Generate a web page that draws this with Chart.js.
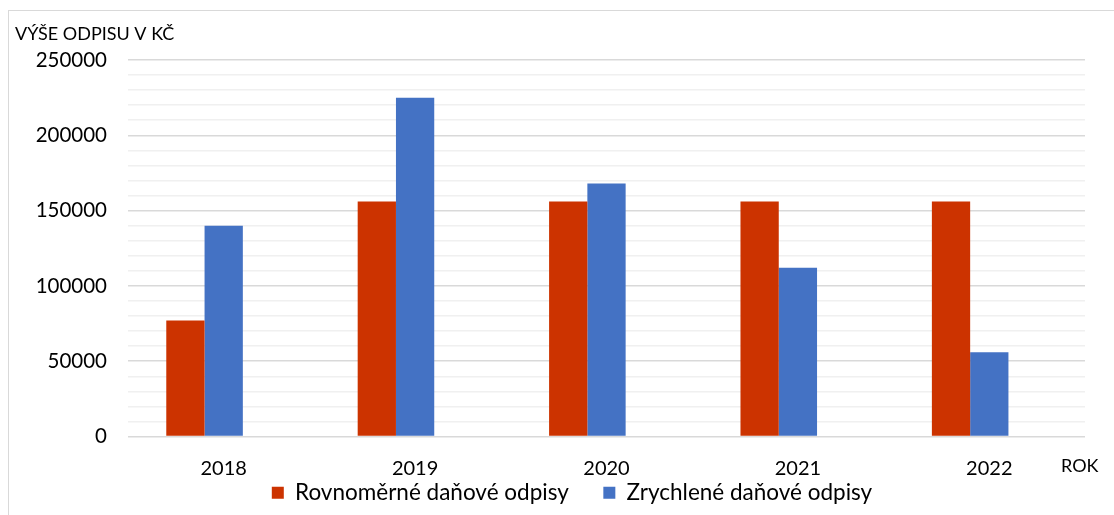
<!DOCTYPE html>
<html>
<head>
<meta charset="utf-8">
<script src="https://cdn.jsdelivr.net/npm/chart.js@4/dist/chart.umd.min.js"></script>
<style>
  body { margin: 0; background: #fff; }
  #frame {
    position: absolute; left: 8px; top: 10px;
    width: 1106px; height: 505px;
    border-top: 1px solid #d9d9d9; border-left: 1px solid #d9d9d9;
  }
  #chart { display: block; }
</style>
</head>
<body>
<div id="frame"><canvas id="chart" width="1105" height="504"></canvas></div>
<script>
// data
const years = ['2018', '2019', '2020', '2021', '2022'];
const rovnomerne = [77000, 156000, 156000, 156000, 156000];
const zrychlene = [140000, 225000, 168000, 112000, 56000];
// the excel sheet has a third, empty series that keeps its slot free
const prazdna = [null, null, null, null, null];

const FONT = 'Lato, "Liberation Sans", sans-serif';

// horizontal axis captions like the excel original
const captions = {
    id: 'captions',
    afterDraw(chart) {
        const c = chart.ctx;
        c.save();
        c.fillStyle = '#000';
        c.textBaseline = 'middle';
        c.font = '18px ' + FONT;
        c.textAlign = 'left';
        c.fillText('VÝŠE ODPISU V KČ', 6, 23);
        c.fillText('ROK', chart.chartArea.right - 24, 455);
        c.restore();
    }
};

// excel tucks the legend right under the year labels and a bit right of centre
const legendNudge = {
    id: 'legendNudge',
    afterLayout(chart) {
        const lg = chart.legend;
        if (!lg) return;
        lg.top -= 11; lg.bottom -= 11;
        lg.left += 25; lg.right += 25;
    }
};

new Chart(document.getElementById('chart'), {
    type: 'bar',
    data: {
        labels: years,
        datasets: [
            {
                label: 'Rovnoměrné daňové odpisy',
                data: rovnomerne,
                backgroundColor: '#cc3300'
            },
            {
                label: 'Zrychlené daňové odpisy',
                data: zrychlene,
                backgroundColor: '#4472c4'
            },
            {
                label: '',
                data: prazdna,
                backgroundColor: 'rgba(0,0,0,0)'
            }
        ]
    },
    options: {
        responsive: false,
        animation: false,
        layout: { padding: { top: 49, right: 29, left: 0, bottom: -10 } },
        datasets: {
            bar: { barPercentage: 1, categoryPercentage: 0.6 }
        },
        scales: {
            x: {
                grid: { display: false },
                border: { display: false },
                ticks: { color: '#000', font: { family: FONT, size: 20 }, padding: 12 }
            },
            y: {
                min: 0,
                max: 250000,
                afterFit(axis) { axis.width = 119; },
                border: { display: false },
                grid: {
                    drawTicks: false,
                    lineWidth: 1.5,
                    color: ctx => (ctx.tick && ctx.tick.value % 50000 === 0) ? '#d9d9d9' : '#f0f0f0'
                },
                ticks: {
                    stepSize: 10000,
                    autoSkip: false,
                    padding: 21,
                    color: '#000',
                    font: { family: FONT, size: 20.5 },
                    callback: v => v % 50000 === 0 ? String(v) : ''
                }
            }
        },
        plugins: {
            legend: {
                position: 'bottom',
                labels: {
                    color: '#000',
                    boxWidth: 12,
                    boxHeight: 12,
                    padding: 0,
                    font: { family: FONT, size: 22.5 },
                    filter: item => item.datasetIndex < 2,
                    // the gap between the two entries is wider in the original
                    generateLabels(chart) {
                        const items = Chart.defaults.plugins.legend.labels.generateLabels(chart);
                        if (items[0]) items[0].text += '      ';
                        return items;
                    }
                }
            },
            tooltip: { enabled: false }
        }
    },
    plugins: [captions, legendNudge]
});
</script>
</body>
</html>
